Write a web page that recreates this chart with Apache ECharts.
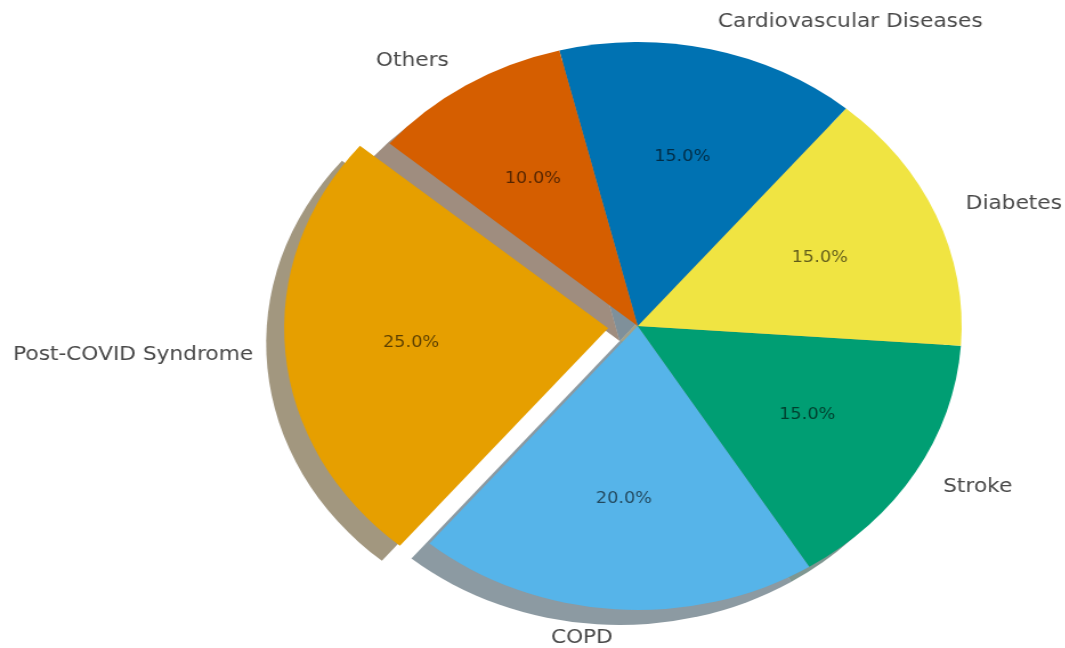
<!DOCTYPE html>
<html>
<head>
<meta charset="utf-8">
<script src="https://cdn.jsdelivr.net/npm/echarts@6/dist/echarts.min.js"></script>
<style>
html,body{margin:0;padding:0;background:#fff;overflow:hidden;}
#wrap{width:1065px;height:648px;overflow:hidden;position:relative;}
#c{width:934px;height:648px;transform:scaleX(1.1408);transform-origin:0 0;position:absolute;left:0;top:0;}
</style>
</head>
<body>
<div id="wrap"><div id="c"></div></div>
<script>
const categories = ['Post-COVID Syndrome', 'COPD', 'Stroke', 'Diabetes', 'Cardiovascular Diseases', 'Others'];
const values = [25, 20, 15, 15, 15, 10];
const exploded = ['Post-COVID Syndrome'];
const palette = ['#E69F00', '#56B4E9', '#009E73', '#F0E442', '#0072B2', '#D55E00'];

const R = 284;
const CX = 559, CY = 326;
const OFF = 26;

function shadowColor(hex) {
  const r = parseInt(hex.slice(1, 3), 16), g = parseInt(hex.slice(3, 5), 16), b = parseInt(hex.slice(5, 7), 16);
  return 'rgba(' + Math.round(r * 0.3) + ',' + Math.round(g * 0.3) + ',' + Math.round(b * 0.3) + ',0.5)';
}

function makeData(kind) {
  return categories.map((name, i) => {
    const item = { name: name, value: values[i], selected: exploded.indexOf(name) >= 0 };
    if (kind === 'shadow') item.itemStyle = { color: shadowColor(palette[i]) };
    else if (kind === 'main') item.itemStyle = { color: palette[i] };
    else item.itemStyle = { color: 'rgba(0,0,0,0)' };
    return item;
  });
}

const common = {
  type: 'pie',
  startAngle: 140,
  clockwise: false,
  selectedMode: 'single',
  selectedOffset: OFF,
  avoidLabelOverlap: false,
  animation: false,
  emphasis: { disabled: true },
  select: { disabled: false },
  labelLine: { show: false }
};

const chart = echarts.init(document.getElementById('c'), null, { renderer: 'canvas' });
chart.setOption({
  backgroundColor: '#ffffff',
  animation: false,
  series: [
    Object.assign({}, common, {
      name: 'shadow',
      silent: true,
      z: 1,
      center: [CX - 15.8, CY + 15],
      radius: [0, R],
      label: { show: false },
      data: makeData('shadow')
    }),
    Object.assign({}, common, {
      name: 'main',
      z: 2,
      center: [CX, CY],
      radius: [0, R],
      label: {
        show: true,
        position: 'outside',
        fontFamily: 'DejaVu Sans',
        fontSize: 19,
        color: '#4a4a4a',
        distanceToLabelLine: 0
      },
      labelLine: { show: false, length: R * 0.1, length2: 0 },
      data: makeData('main')
    }),
    Object.assign({}, common, {
      name: 'pct',
      silent: true,
      z: 3,
      center: [CX, CY],
      radius: [R * 0.2, R],
      label: {
        show: true,
        position: 'inside',
        fontFamily: 'DejaVu Sans',
        fontSize: 15.5,
        color: 'rgba(0,0,0,0.6)',
        formatter: p => p.percent.toFixed(1) + '%'
      },
      data: makeData('pct')
    })
  ]
});
</script>
</body>
</html>
